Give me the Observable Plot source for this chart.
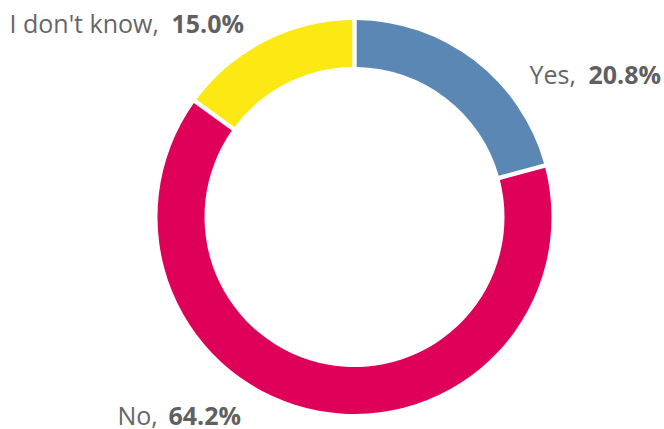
<!DOCTYPE html>
<html>
<head>
<meta charset="utf-8">
<script src="https://cdn.jsdelivr.net/npm/d3@7"></script>
<script src="https://cdn.jsdelivr.net/npm/@observablehq/plot@0.6"></script>
<style>
  html, body { margin: 0; padding: 0; background: #fff; }
  #chart svg { display: block; }
</style>
</head>
<body>
<div id="chart"></div>
<script>
// ---- data ----
const categories = ["Yes", "No", "I don't know"];
const shares = [20.8, 64.2, 15.0];
const valueLabels = ["20.8%", "64.2%", "15.0%"];
const colors = ["#5b87b5", "#df005a", "#fce913"];

// ---- layout ----
const W = 664, H = 429;
const center = [354.5, 217];
const outerR = 197, innerR = 150;
const labelAnchors = [[529, 83], [117, 424], [9, 32]];
const valueStarts = [588, 168, 171];

const idx = d3.range(categories.length);
const pie = d3.pie().sort(null).value(i => shares[i]);
const arcsData = pie(idx);

function donut(...args) {
  const scales = args.find(a => a && typeof a === "object" && !Array.isArray(a) && typeof a.x === "function");
  const cx = scales.x(center[0]), cy = scales.y(center[1]);
  const arc = d3.arc()
    .innerRadius(innerR)
    .outerRadius(outerR)
    .padAngle(0.044)
    .padRadius(100);
  const g = d3.create("svg:g").attr("transform", `translate(${cx},${cy})`);
  g.selectAll("path")
    .data(arcsData)
    .join("path")
    .attr("d", arc)
    .attr("fill", d => colors[d.data]);
  return g.node();
}

const chart = Plot.plot({
  width: W,
  height: H,
  margin: 0,
  x: {domain: [0, W], range: [0, W], axis: null},
  y: {domain: [0, H], range: [0, H], axis: null},
  marks: [
    donut,
    Plot.text(idx, {
      x: i => labelAnchors[i][0],
      y: i => labelAnchors[i][1],
      text: i => categories[i] + ",",
      textAnchor: "start",
      lineAnchor: "bottom",
      fontSize: 25,
      fontFamily: "Open Sans",
      fill: "#666666"
    }),
    Plot.text(idx, {
      x: i => valueStarts[i],
      y: i => labelAnchors[i][1],
      text: i => valueLabels[i],
      textAnchor: "start",
      lineAnchor: "bottom",
      fontSize: 25,
      fontWeight: "bold",
      fontFamily: "Open Sans",
      fill: "#606060"
    })
  ]
});
document.getElementById("chart").appendChild(chart);
</script>
</body>
</html>
